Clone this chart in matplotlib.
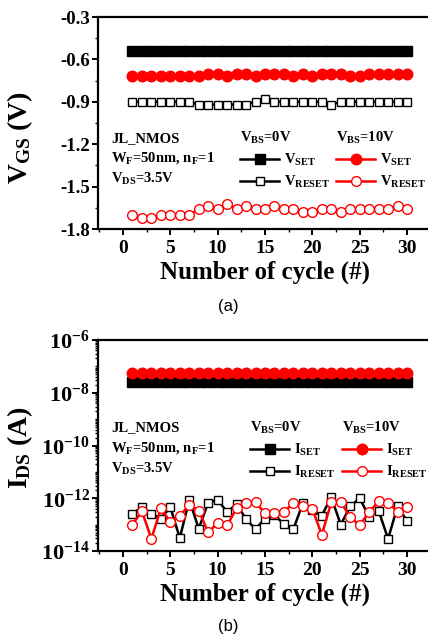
import math
import matplotlib
matplotlib.use("Agg")
import matplotlib.pyplot as plt
from matplotlib.ticker import MultipleLocator, FixedLocator, FuncFormatter, LogLocator, NullFormatter

plt.rcParams['font.family'] = ['Liberation Serif', 'DejaVu Serif']
plt.rcParams['font.weight'] = 'bold'
plt.rcParams['mathtext.fontset'] = 'custom'
plt.rcParams['mathtext.rm'] = 'Liberation Serif:bold'
plt.rcParams['mathtext.it'] = 'Liberation Serif:bold'
plt.rcParams['mathtext.bf'] = 'Liberation Serif:bold'

# ---------------- data ----------------
cycles = [1, 2, 3, 4, 5, 6, 7, 8, 9, 10, 11, 12, 13, 14, 15,
          16, 17, 18, 19, 20, 21, 22, 23, 24, 25, 26, 27, 28, 29, 30]

vset_0 = [-0.54, -0.54, -0.54, -0.54, -0.54, -0.54, -0.54, -0.54, -0.54, -0.54,
          -0.54, -0.54, -0.54, -0.54, -0.54, -0.54, -0.54, -0.54, -0.54, -0.54,
          -0.54, -0.54, -0.54, -0.54, -0.54, -0.54, -0.54, -0.54, -0.54, -0.54]
vreset_0 = [-0.90, -0.90, -0.90, -0.90, -0.90, -0.90, -0.90, -0.92, -0.92, -0.92,
            -0.92, -0.92, -0.92, -0.90, -0.88, -0.90, -0.90, -0.90, -0.90, -0.90,
            -0.90, -0.92, -0.90, -0.90, -0.90, -0.90, -0.90, -0.90, -0.90, -0.90]
vset_10 = [-0.72, -0.72, -0.72, -0.72, -0.72, -0.72, -0.72, -0.72, -0.70, -0.70,
           -0.72, -0.70, -0.70, -0.72, -0.70, -0.70, -0.70, -0.72, -0.70, -0.72,
           -0.70, -0.70, -0.70, -0.72, -0.72, -0.70, -0.70, -0.70, -0.70, -0.70]
vreset_10 = [-1.70, -1.72, -1.72, -1.70, -1.70, -1.70, -1.70, -1.66, -1.64, -1.66,
             -1.62, -1.66, -1.64, -1.66, -1.66, -1.64, -1.66, -1.66, -1.68, -1.68,
             -1.66, -1.66, -1.68, -1.66, -1.66, -1.66, -1.66, -1.66, -1.64, -1.66]

iset_0 = [2.6e-8, 2.6e-8, 2.6e-8, 2.6e-8, 2.6e-8, 2.6e-8, 2.6e-8, 2.6e-8, 2.6e-8, 2.6e-8,
          2.6e-8, 2.6e-8, 2.6e-8, 2.6e-8, 2.6e-8, 2.6e-8, 2.6e-8, 2.6e-8, 2.6e-8, 2.6e-8,
          2.6e-8, 2.6e-8, 2.6e-8, 2.6e-8, 2.6e-8, 2.6e-8, 2.6e-8, 2.6e-8, 2.6e-8, 2.6e-8]
iset_10 = [5.8e-8, 5.8e-8, 5.8e-8, 5.8e-8, 5.8e-8, 5.8e-8, 5.8e-8, 5.8e-8, 5.8e-8, 5.8e-8,
           5.8e-8, 5.8e-8, 5.8e-8, 5.8e-8, 5.8e-8, 5.8e-8, 5.8e-8, 5.8e-8, 5.8e-8, 5.8e-8,
           5.8e-8, 5.8e-8, 5.8e-8, 5.8e-8, 5.8e-8, 5.8e-8, 5.8e-8, 5.8e-8, 5.8e-8, 5.8e-8]
ireset_0 = [2.6e-13, 4.6e-13, 2.6e-13, 1.7e-13, 4.6e-13, 3.1e-14, 8.7e-13, 7.0e-14, 6.9e-13, 8.7e-13,
            3.0e-13, 6.0e-13, 1.6e-13, 6.8e-14, 1.7e-13, 2.3e-13, 1.05e-13, 6.8e-14, 6.5e-13, 3.5e-13,
            2.2e-13, 1.1e-12, 1.0e-13, 4.9e-13, 1.0e-12, 2.0e-13, 3.4e-13, 2.9e-14, 4.9e-13, 1.4e-13]
ireset_10 = [1.0e-13, 3.2e-13, 2.9e-14, 4.2e-13, 1.25e-13, 2.2e-13, 5.6e-13, 3.4e-13, 5.1e-14, 1.15e-13,
             9.3e-14, 4.2e-13, 6.5e-13, 7.0e-13, 2.7e-13, 2.7e-13, 3.1e-13, 6.4e-13, 4.9e-13, 4.0e-13,
             4.1e-14, 7.0e-13, 7.0e-13, 2.0e-13, 9.3e-14, 3.0e-13, 7.6e-13, 6.9e-13, 3.1e-13, 4.6e-13]

vgs_ticks = [-1.8, -1.5, -1.2, -0.9, -0.6, -0.3]
ids_ticks = [1e-14, 1e-12, 1e-10, 1e-8, 1e-6]
x_ticks = [0, 5, 10, 15, 20, 25, 30]

# ---------------- figure ----------------
W, H = 428, 641
fig = plt.figure(figsize=(W / 100, H / 100), dpi=100)

L_PX, R_PX = 98, 432


def axes_rect(top_px, bot_px):
    return [L_PX / W, 1 - bot_px / H, (R_PX - L_PX) / W, (bot_px - top_px) / H]


ax1 = fig.add_axes(axes_rect(17, 229))
ax2 = fig.add_axes(axes_rect(340, 551))

BLACK = 'black'
RED = '#ff0000'


def style(ax):
    for s in ax.spines.values():
        s.set_linewidth(1.6)
    ax.set_xlim(-2.64, 32.64)
    ax.xaxis.set_major_locator(FixedLocator(x_ticks))
    ax.xaxis.set_minor_locator(MultipleLocator(2.5))
    ax.tick_params(which='major', direction='out', length=4, width=1.4,
                   top=False, right=False)
    ax.tick_params(which='minor', direction='out', length=2.5, width=1.0,
                   top=False, right=False)
    ax.tick_params(axis='x', labelsize=14, pad=4)
    ax.tick_params(axis='y', labelsize=13.5, pad=2)
    ax.set_xlabel('Number of cycle (#)', fontsize=18, fontweight='bold', labelpad=2.5)


# ---- top panel ----
h_s0, = ax1.plot(cycles, vset_0, '-s', color=BLACK, lw=1.8, ms=7, mfc=BLACK, mec=BLACK)
h_r0, = ax1.plot(cycles, vreset_0, '-s', color=BLACK, lw=1.8, ms=6.3, mfc='white', mec=BLACK, mew=1.0)
h_s10, = ax1.plot(cycles, vset_10, '-o', color=RED, lw=1.8, ms=7.6, mfc=RED, mec=RED)
h_r10, = ax1.plot(cycles, vreset_10, '-o', color=RED, lw=1.8, ms=7, mfc='white', mec=RED, mew=1.0)
ax1.set_ylim(-1.8, -0.3)
ax1.yaxis.set_major_locator(FixedLocator(vgs_ticks))
ax1.yaxis.set_minor_locator(MultipleLocator(0.15))
ax1.yaxis.set_major_formatter(FuncFormatter(lambda v, p: '%.1f' % v))
style(ax1)
ax1.set_ylabel(r'$V_{GS}$ (V)', fontsize=20, fontweight='bold')
ax1.yaxis.set_label_coords(-0.19, 0.43)

# ---- bottom panel ----
g_s0, = ax2.plot(cycles, iset_0, '-s', color=BLACK, lw=1.8, ms=7, mfc=BLACK, mec=BLACK)
g_r0, = ax2.plot(cycles, ireset_0, '-s', color=BLACK, lw=1.8, ms=6.3, mfc='white', mec=BLACK, mew=1.0)
g_s10, = ax2.plot(cycles, iset_10, '-o', color=RED, lw=1.8, ms=7.6, mfc=RED, mec=RED)
g_r10, = ax2.plot(cycles, ireset_10, '-o', color=RED, lw=1.8, ms=7, mfc='white', mec=RED, mew=1.0)
ax2.set_yscale('log')
ax2.set_ylim(1e-14, 1e-6)
ax2.yaxis.set_major_locator(FixedLocator(ids_ticks))
ax2.yaxis.set_minor_locator(LogLocator(base=10, subs=(1.0, 2.0, 3.0, 4.0, 5.0, 6.0, 7.0, 8.0, 9.0), numticks=50))
ax2.yaxis.set_minor_formatter(NullFormatter())


def logfmt(v, p):
    e = int(round(math.log10(v)))
    return r'$10^{%d}$' % e


ax2.yaxis.set_major_formatter(FuncFormatter(logfmt))
style(ax2)
ax2.tick_params(axis='y', labelsize=16)
ax2.set_ylabel(r'$I_{DS}$ (A)', fontsize=20, fontweight='bold')
ax2.yaxis.set_label_coords(-0.19, 0.49)


def ax_xy(ax, px, py, top_px, bot_px):
    return (px - L_PX) / (R_PX - L_PX), (bot_px - py) / (bot_px - top_px)


def annotate(ax, top_px, bot_px, rows_y):
    labels = ['JL_NMOS', r'W$_F$=50nm, n$_F$=1', r'V$_{DS}$=3.5V']
    for txt, y in zip(labels, rows_y):
        x, yy = ax_xy(ax, 111, y, top_px, bot_px)
        ax.text(x, yy, txt, transform=ax.transAxes, fontsize=10.5, fontweight='bold',
                ha='left', va='center')


annotate(ax1, 17, 229, [139, 158, 179])
annotate(ax2, 340, 551, [428, 448, 469])


def add_legends(ax, top_px, bot_px, hs, names, x0, x1, ytop):
    common = dict(loc='upper left', frameon=False, fontsize=10.5, title_fontsize=10.5,
                  handlelength=2.7, handletextpad=0.3, labelspacing=0.4,
                  borderpad=0, borderaxespad=0, alignment='left')
    leg1 = ax.legend(hs[:2], names, title=r'V$_{BS}$=0V',
                     bbox_to_anchor=ax_xy(ax, x0, ytop, top_px, bot_px), **common)
    ax.add_artist(leg1)
    leg2 = ax.legend(hs[2:], names, title=r'V$_{BS}$=10V',
                     bbox_to_anchor=ax_xy(ax, x1, ytop, top_px, bot_px), **common)
    for leg in (leg1, leg2):
        leg.get_title().set_fontweight('bold')


add_legends(ax1, 17, 229, [h_s0, h_r0, h_s10, h_r10], [r'V$_{SET}$', r'V$_{RESET}$'], 240, 336, 130)
add_legends(ax2, 340, 551, [g_s0, g_r0, g_s10, g_r10], [r'I$_{SET}$', r'I$_{RESET}$'], 250, 342, 420)

fig.text(228 / W, 1 - 306 / H, '(a)', fontsize=12, fontweight='normal',
         family=['Liberation Sans', 'DejaVu Sans'], ha='center', va='center')
fig.text(228 / W, 1 - 627 / H, '(b)', fontsize=12, fontweight='normal',
         family=['Liberation Sans', 'DejaVu Sans'], ha='center', va='center')

fig.savefig('out.png', dpi=100)
